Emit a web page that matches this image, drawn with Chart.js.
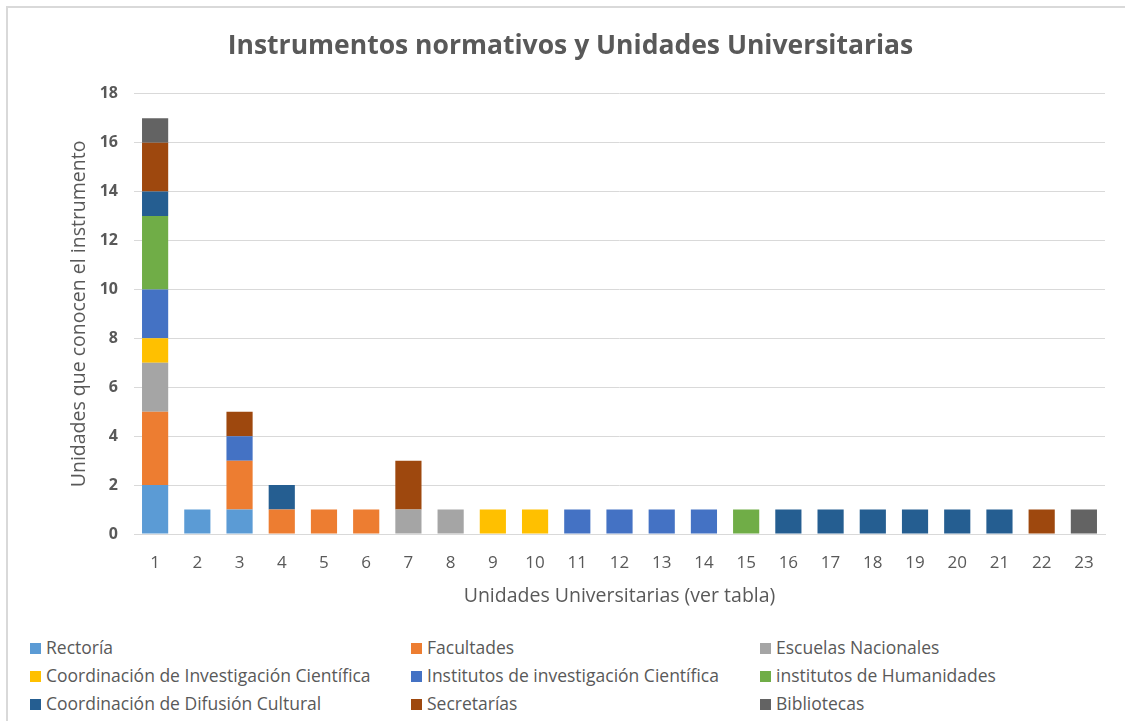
<!DOCTYPE html>
<html>
<head>
<meta charset="utf-8">
<script src="https://cdn.jsdelivr.net/npm/chart.js@4.4.0/dist/chart.umd.min.js"></script>
<style>
  html, body { margin: 0; padding: 0; background: #fff; overflow: hidden; width: 1125px; height: 721px; }
  #frame {
    position: absolute; left: 6px; top: 6px; width: 1119px; height: 715px;
    border-left: 2px solid #d9d9d9; border-top: 2px solid #d9d9d9; box-sizing: border-box;
  }
  #wrap { position: absolute; left: 0; top: 0; width: 1125px; height: 620px; }
  #legend {
    position: absolute; left: 0; top: 634px; width: 1125px; height: 84px;
    font-family: 'Open Sans', sans-serif; font-size: 17.5px; color: #595959;
  }
  .item { position: absolute; white-space: nowrap; line-height: 22px; }
  .box { display: inline-block; width: 11px; height: 11px; margin-right: 5px; vertical-align: 0px; }
</style>
</head>
<body>
<div id="frame"></div>
<div id="wrap"><canvas id="chart" width="1125" height="620"></canvas></div>
<div id="legend"></div>
<script>
  /* --- Data --- */
  var categories = ['1', '2', '3', '4', '5', '6', '7', '8', '9', '10', '11', '12',
    '13', '14', '15', '16', '17', '18', '19', '20', '21', '22', '23'];

  var seriesNames = ['Rectoría', 'Facultades', 'Escuelas Nacionales',
    'Coordinación de Investigación Científica', 'Institutos de investigación Científica',
    'institutos de Humanidades', 'Coordinación de Difusión Cultural', 'Secretarías', 'Bibliotecas'];

  var seriesColors = ['#5B9BD5', '#ED7D31', '#A5A5A5', '#FFC000', '#4472C4',
    '#70AD47', '#255E91', '#9E480E', '#636363'];

  var rectoria      = [2, 1, 1, 0, 0, 0, 0, 0, 0, 0, 0, 0, 0, 0, 0, 0, 0, 0, 0, 0, 0, 0, 0];
  var facultades    = [3, 0, 2, 1, 1, 1, 0, 0, 0, 0, 0, 0, 0, 0, 0, 0, 0, 0, 0, 0, 0, 0, 0];
  var escuelas      = [2, 0, 0, 0, 0, 0, 1, 1, 0, 0, 0, 0, 0, 0, 0, 0, 0, 0, 0, 0, 0, 0, 0];
  var coordInv      = [1, 0, 0, 0, 0, 0, 0, 0, 1, 1, 0, 0, 0, 0, 0, 0, 0, 0, 0, 0, 0, 0, 0];
  var institutosInv = [2, 0, 1, 0, 0, 0, 0, 0, 0, 0, 1, 1, 1, 1, 0, 0, 0, 0, 0, 0, 0, 0, 0];
  var humanidades   = [3, 0, 0, 0, 0, 0, 0, 0, 0, 0, 0, 0, 0, 0, 1, 0, 0, 0, 0, 0, 0, 0, 0];
  var difusion      = [1, 0, 0, 1, 0, 0, 0, 0, 0, 0, 0, 0, 0, 0, 0, 1, 1, 1, 1, 1, 1, 0, 0];
  var secretarias   = [2, 0, 1, 0, 0, 0, 2, 0, 0, 0, 0, 0, 0, 0, 0, 0, 0, 0, 0, 0, 0, 1, 0];
  var bibliotecas   = [1, 0, 0, 0, 0, 0, 0, 0, 0, 0, 0, 0, 0, 0, 0, 0, 0, 0, 0, 0, 0, 0, 1];

  var seriesValues = [rectoria, facultades, escuelas, coordInv, institutosInv,
    humanidades, difusion, secretarias, bibliotecas];

  var yTicks = [0, 2, 4, 6, 8, 10, 12, 14, 16, 18];

  var textColor = '#595959';
  var gridColor = '#d9d9d9';
  var fontFamily = "'Open Sans', sans-serif";

  /* --- Chart --- */
  var datasets = seriesValues.map(function (vals, i) {
    return {
      label: seriesNames[i],
      data: vals,
      backgroundColor: seriesColors[i],
      borderWidth: 0,
      barPercentage: 0.62,
      categoryPercentage: 1.0
    };
  });

  var padLeft = 36;

  var ctx = document.getElementById('chart').getContext('2d');
  new Chart(ctx, {
    type: 'bar',
    data: { labels: categories, datasets: datasets },
    options: {
      responsive: false,
      animation: false,
      layout: { padding: { left: padLeft, right: 20, top: 0, bottom: 12 } },
      plugins: {
        legend: { display: false },
        tooltip: { enabled: false },
        title: {
          display: true,
          text: 'Instrumentos normativos y Unidades Universitarias',
          color: textColor,
          font: { family: fontFamily, size: 26.5, weight: 'bold' },
          padding: { top: 31, bottom: 31 }
        }
      },
      scales: {
        x: {
          stacked: true,
          grid: { display: false, drawTicks: false },
          border: { color: gridColor, width: 1 },
          ticks: { color: textColor, font: { family: fontFamily, size: 17 }, padding: 19 },
          title: {
            display: true,
            text: 'Unidades Universitarias (ver tabla)',
            color: textColor,
            font: { family: fontFamily, size: 19.5 },
            padding: { top: 6, bottom: 0 }
          },
          afterFit: function (scale) { scale.height = 74; }
        },
        y: {
          stacked: true,
          min: 0,
          max: 18,
          afterBuildTicks: function (scale) {
            scale.ticks = yTicks.map(function (v) { return { value: v }; });
          },
          grid: { color: gridColor, drawTicks: false },
          border: { display: false },
          ticks: { color: textColor, font: { family: fontFamily, size: 16, weight: 'bold' }, padding: 16 },
          title: {
            display: true,
            text: 'Unidades que conocen el instrumento',
            color: textColor,
            font: { family: fontFamily, size: 19.5 },
            padding: { top: 32, bottom: 0 }
          },
          afterFit: function (scale) { scale.width = 134 - padLeft; }
        }
      }
    }
  });

  /* --- Legend (3 columns, row-major like the original) --- */
  var colX = [30, 411, 760];
  var rowY = [2, 30, 58];
  var legend = document.getElementById('legend');
  var html = '';
  for (var i = 0; i < seriesNames.length; i++) {
    html += '<div class="item" style="left:' + colX[i % 3] + 'px;top:' + rowY[Math.floor(i / 3)] + 'px">' +
      '<span class="box" style="background:' + seriesColors[i] + '"></span>' + seriesNames[i] + '</div>';
  }
  legend.innerHTML = html;
</script>
</body>
</html>
